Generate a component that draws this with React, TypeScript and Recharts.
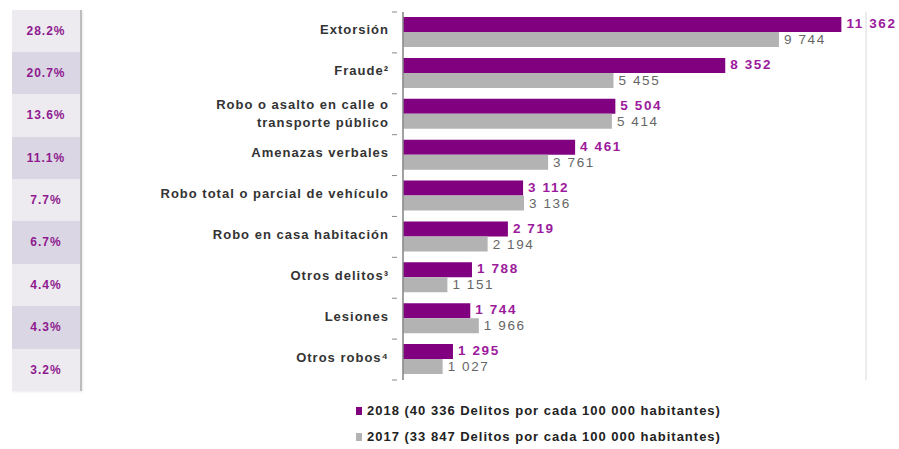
import React from 'react';
import { BarChart, Bar, XAxis, YAxis, CartesianGrid, LabelList } from 'recharts';

const categories = [
  'Extorsión',
  'Fraude²',
  'Robo o asalto en calle o|transporte público',
  'Amenazas verbales',
  'Robo total o parcial de vehículo',
  'Robo en casa habitación',
  'Otros delitos³',
  'Lesiones',
  'Otros robos⁴',
];
const values2018 = [11362, 8352, 5504, 4461, 3112, 2719, 1788, 1744, 1295];
const values2017 = [9744, 5455, 5414, 3761, 3136, 2194, 1151, 1966, 1027];
const shares = ['28.2%', '20.7%', '13.6%', '11.1%', '7.7%', '6.7%', '4.4%', '4.3%', '3.2%'];
const xTicks = [0, 2000, 4000, 6000, 8000, 10000, 12000];
const legendLabels = [
  '2018 (40 336 Delitos por cada 100 000 habitantes)',
  '2017 (33 847 Delitos por cada 100 000 habitantes)',
];

const PURPLE = '#800080';
const GRAY = '#b3b3b3';
const FONT = '"Liberation Sans", Arial, sans-serif';

const CHART_W = 899;
const CHART_H = 381;
const TOP = 12;
const BOTTOM = 1;
const BAND = (CHART_H - TOP - BOTTOM) / categories.length;

const data = categories.map((name, i) => ({
  name,
  v2018: values2018[i],
  v2017: values2017[i],
}));

const fmt = (v: number) => String(v).replace(/\B(?=(\d{3})+(?!\d))/g, ' ');

function CategoryTick(props: any) {
  const { x, y, payload, index } = props;
  const lines = String(payload.value).split('|');
  const isLast = index === categories.length - 1;
  return (
    <g>
      <line x1={x + 3} x2={x + 8} y1={y - BAND / 2} y2={y - BAND / 2} stroke="#888" />
      {isLast && <line x1={x + 3} x2={x + 8} y1={y + BAND / 2} y2={y + BAND / 2} stroke="#888" />}
      <text
        x={x}
        y={y}
        textAnchor="end"
        fill="#333"
        fontFamily={FONT}
        fontSize={13}
        fontWeight={600}
        letterSpacing={1}
      >
        {lines.map((l, i) => (
          <tspan key={i} x={x} dy={i === 0 ? (lines.length > 1 ? -5 : 2) : 18}>
            {l}
          </tspan>
        ))}
      </text>
    </g>
  );
}

function ValueLabel(color: string, bold: boolean, dy: number) {
  return (props: any) => {
    const { x, y, width, height, value } = props;
    return (
      <text
        x={x + width + 5}
        y={y + height / 2 + dy}
        fill={color}
        fontFamily={FONT}
        fontSize={13.5}
        fontWeight={bold ? 700 : 400}
        letterSpacing={1.6}
        dominantBaseline="middle"
      >
        {fmt(value)}
      </text>
    );
  };
}

export default function App() {
  return (
    <div style={{ position: 'absolute', left: 0, top: 0, width: 899, height: 449, background: '#fff' }}>
      {/* Percentage column */}
      <div
        style={{
          position: 'absolute',
          left: 12,
          top: 9.5,
          width: 68,
          borderRight: '2px solid #bdbdbd',
          boxShadow: '1px 1px 2px rgba(0,0,0,0.08)',
        }}
      >
        {shares.map((s, i) => (
          <div
            key={s}
            style={{
              height: 42.4,
              lineHeight: '42.4px',
              textAlign: 'center',
              background: i % 2 === 0 ? '#edebf0' : '#dad6e3',
              color: '#8f1a8f',
              fontFamily: FONT,
              fontSize: 12,
              fontWeight: 700,
              letterSpacing: 1,
            }}
          >
            {s}
          </div>
        ))}
      </div>

      <div style={{ position: 'absolute', left: 0, top: 0 }}>
        <BarChart
          width={CHART_W}
          height={CHART_H}
          data={data}
          layout="vertical"
          margin={{ top: TOP, right: 33, bottom: BOTTOM, left: 0 }}
          barGap={0}
          barSize={15}
        >
          <CartesianGrid horizontal={false} stroke="#d9d9d9" />
          <XAxis
            type="number"
            domain={[0, 12000]}
            ticks={xTicks}
            height={0}
            tick={false}
            axisLine={false}
            tickLine={false}
          />
          <YAxis
            type="category"
            dataKey="name"
            width={403}
            axisLine={{ stroke: '#888', strokeWidth: 1.5 }}
            tickLine={false}
            tick={<CategoryTick />}
            tickMargin={8}
            interval={0}
          />
          <Bar dataKey="v2018" fill={PURPLE} isAnimationActive={false}>
            <LabelList dataKey="v2018" content={ValueLabel('#9c1a9c', true, 0)} />
          </Bar>
          <Bar dataKey="v2017" fill={GRAY} isAnimationActive={false}>
            <LabelList dataKey="v2017" content={ValueLabel('#666', false, 1)} />
          </Bar>
        </BarChart>
      </div>

      {/* Legend */}
      {legendLabels.map((l, i) => (
        <div
          key={l}
          style={{
            position: 'absolute',
            left: 356,
            top: 403 + i * 26,
            display: 'flex',
            alignItems: 'center',
            fontFamily: FONT,
            fontSize: 13,
            fontWeight: 600,
            letterSpacing: 1,
            color: '#222',
          }}
        >
          <span
            style={{
              display: 'inline-block',
              width: 6,
              height: 8,
              marginRight: 5,
              background: i === 0 ? PURPLE : GRAY,
            }}
          />
          {l}
        </div>
      ))}
    </div>
  );
}
